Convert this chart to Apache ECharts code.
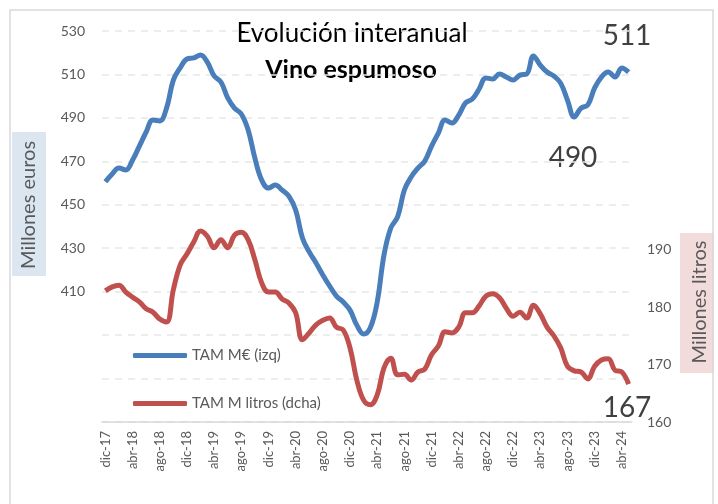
<!DOCTYPE html>
<html>
<head>
<meta charset="utf-8">
<script src="https://cdn.jsdelivr.net/npm/echarts@6/dist/echarts.min.js"></script>
<style>
  html, body { margin: 0; padding: 0; background: #fff; }
  #chart { width: 718px; height: 504px; }
</style>
</head>
<body>
<div id="chart"></div>
<script>
// meses en abreviatura, la serie va de dic-17 a may-24
var meses = ['ene','feb','mar','abr','may','jun','jul','ago','sep','oct','nov','dic'];
var categorias = [];
for (var k = 0; k < 78; k++) {
  var m = (11 + k) % 12;
  var y = 17 + Math.floor((11 + k) / 12);
  categorias.push(meses[m] + '-' + y);
}

// TAM en millones de euros (eje izq)
var tamEuros = [
  460.6, 464.2, 466.9, 466.0, 470.6, 477.0, 483.5, 489.0, 488.6, 494.5,
  507.4, 513.0, 517.1, 517.6, 519.0, 515.7, 509.3, 506.5, 499.2, 494.5,
  491.8, 484.5, 471.5, 461.4, 457.7, 459.1, 456.8, 454.0, 447.6, 434.7,
  428.3, 423.2, 417.7, 412.6, 408.0, 405.2, 401.5, 394.6, 390.5, 393.5,
  405.2, 426.9, 439.3, 444.4, 456.8, 462.8, 466.9, 470.1, 477.0, 483.0,
  489.0, 487.6, 491.3, 496.9, 498.7, 503.3, 508.4, 507.9, 510.2, 508.8,
  507.4, 509.7, 510.2, 518.5, 514.3, 511.1, 509.3, 506.0, 498.2, 490.4,
  494.5, 496.0, 503.8, 508.8, 511.1, 508.8, 513.0, 511.1
];

// TAM en millones de litros (eje dcha)
var tamLitros = [
  182.8, 183.5, 183.8, 182.6, 181.7, 180.9, 179.7, 179.1, 177.9, 177.4,
  183.0, 187.3, 189.2, 191.3, 193.2, 192.3, 190.3, 191.7, 190.3, 192.5,
  193.0, 191.7, 188.2, 184.2, 182.6, 182.6, 181.4, 180.7, 179.0, 174.3,
  175.5, 176.9, 177.7, 178.1, 176.5, 176.0, 172.9, 167.3, 163.8, 163.0,
  164.7, 169.4, 171.1, 168.2, 168.3, 167.3, 168.7, 169.2, 171.7, 173.2,
  175.7, 175.5, 176.5, 179.0, 179.0, 180.2, 181.9, 182.3, 181.6, 179.8,
  178.4, 179.1, 178.1, 180.3, 178.8, 176.5, 175.0, 172.9, 169.7, 168.9,
  168.7, 167.5, 169.7, 170.8, 171.0, 169.0, 168.7, 166.6
];

// rotulos sobre el grafico
var rotulos = ['511', '490', '167'];

var fuente = 'Lato';
var gris = '#595959';

var chart = echarts.init(document.getElementById('chart'));
var option = {
  animation: false,
  textStyle: { fontFamily: fuente },
  grid: { left: 102, right: 86, top: 31, bottom: 82 },
  legend: {
    orient: 'vertical',
    left: 133,
    top: 348,
    padding: 0,
    icon: 'roundRect',
    itemWidth: 54,
    itemHeight: 5,
    itemGap: 33,
    textStyle: { fontSize: 15, color: gris, fontFamily: fuente },
    data: ['TAM M€ (izq)', 'TAM M litros (dcha)']
  },
  xAxis: {
    type: 'category',
    data: categorias,
    boundaryGap: true,
    axisLine: { lineStyle: { color: '#d9d9d9', width: 1.5 } },
    axisTick: { show: false },
    axisLabel: { interval: 3, rotate: 90, fontSize: 13, color: gris, margin: 9 },
    splitLine: { show: false }
  },
  yAxis: [
    {
      type: 'value',
      min: 350,
      max: 530,
      interval: 20,
      axisLine: { show: false },
      axisTick: { show: false },
      axisLabel: {
        fontSize: 14, color: gris, margin: 17,
        formatter: function (v) { return v >= 410 ? v : ''; }
      },
      splitLine: { lineStyle: { color: '#e8e8e8', width: 1.5, type: [7, 6] } }
    },
    {
      type: 'value',
      min: 160,
      max: 228,
      interval: 10,
      axisLine: { show: false },
      axisTick: { show: false },
      axisLabel: {
        fontSize: 14, color: gris, margin: 15,
        formatter: function (v) { return v <= 190 ? v : ''; }
      },
      splitLine: { show: false }
    }
  ],
  series: [
    {
      name: 'TAM M€ (izq)',
      type: 'line',
      yAxisIndex: 0,
      data: tamEuros,
      smooth: 0.4,
      symbol: 'none',
      lineStyle: { color: '#4a7ebb', width: 5 },
      itemStyle: { color: '#4a7ebb' }
    },
    {
      name: 'TAM M litros (dcha)',
      type: 'line',
      yAxisIndex: 1,
      data: tamLitros,
      smooth: 0.4,
      symbol: 'none',
      lineStyle: { color: '#c0504d', width: 5 },
      itemStyle: { color: '#c0504d' }
    }
  ],
  graphic: [
    { type: 'rect', shape: { x: 10, y: 10, width: 703, height: 510 }, style: { fill: 'none', stroke: '#d9d9d9', lineWidth: 1.5 }, silent: true },
    { type: 'rect', shape: { x: 12, y: 132, width: 34, height: 144 }, style: { fill: '#dce6f1' }, z: -1 },
    { type: 'text', x: 29, y: 205, rotation: Math.PI / 2,
      style: { text: 'Millones euros', font: '20px ' + fuente, fill: gris, align: 'center', verticalAlign: 'middle' } },
    { type: 'rect', shape: { x: 680, y: 233, width: 34, height: 140 }, style: { fill: '#f2dcdb' }, z: -1 },
    { type: 'text', x: 700, y: 302, rotation: Math.PI / 2,
      style: { text: 'Millones litros', font: '20px ' + fuente, fill: gris, align: 'center', verticalAlign: 'middle' } },
    { type: 'text', x: 352, y: 34,
      style: { text: 'Evolución interanual', font: '26px ' + fuente, fill: '#000', align: 'center', verticalAlign: 'middle' } },
    { type: 'text', x: 351, y: 70,
      style: { text: 'Vino espumoso', font: 'bold 25px ' + fuente, fill: '#000', align: 'center', verticalAlign: 'middle' } },
    { type: 'text', x: 627, y: 36,
      style: { text: rotulos[0], font: '28px ' + fuente, fill: '#404040', align: 'center', verticalAlign: 'middle' } },
    { type: 'text', x: 573, y: 158,
      style: { text: rotulos[1], font: '28px ' + fuente, fill: '#404040', align: 'center', verticalAlign: 'middle' } },
    { type: 'text', x: 627, y: 408,
      style: { text: rotulos[2], font: '28px ' + fuente, fill: '#404040', align: 'center', verticalAlign: 'middle' } }
  ]
};
chart.setOption(option);
</script>
</body>
</html>
